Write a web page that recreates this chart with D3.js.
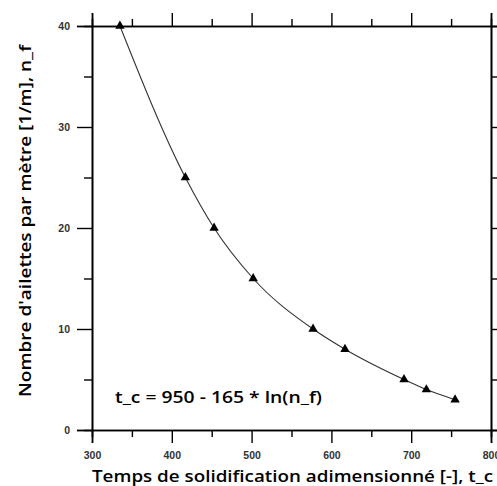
<!doctype html>
<html>
<head>
  <meta charset="utf-8">
  <script src="https://d3js.org/d3.v7.min.js"></script>
  <style>
    body { margin: 0; background: #fff; }
  </style>
</head>
<body>
  <script>

    // data
    var tc = [335, 417, 453, 502, 577, 617, 691, 719, 755];
    var nf = [40, 25, 20, 15, 10, 8, 5, 4, 3];

    var xTicks = [300, 400, 500, 600, 700, 800];
    var yTicks = [0, 10, 20, 30, 40];

    var points = tc.map(function (t, i) { return [t, nf[i]]; });

    var svg = d3.select("body")
      .append("svg")
      .attr("width", 497)
      .attr("height", 486);

    var x = d3.scaleLinear().domain([300, 800]).range([92, 491]);
    var y = d3.scaleLinear().domain([0, 40]).range([430, 26]);

    var tickFont = "'Liberation Sans', Arial, sans-serif";

    // minor ticks (no labels)
    svg.append("g")
      .attr("transform", "translate(0,430)")
      .call(d3.axisBottom(x).tickValues(d3.range(350, 800, 100)).tickSize(7).tickFormat(""));
    svg.append("g")
      .attr("transform", "translate(0,26)")
      .call(d3.axisTop(x).tickValues(d3.range(350, 800, 100)).tickSize(7).tickFormat(""));
    svg.append("g")
      .attr("transform", "translate(92,0)")
      .call(d3.axisLeft(y).tickValues(d3.range(5, 40, 10)).tickSize(8).tickFormat(""));
    svg.append("g")
      .attr("transform", "translate(491,0)")
      .call(d3.axisRight(y).tickValues(d3.range(5, 40, 10)).tickSize(8).tickFormat(""));

    // major ticks
    var xAxis = svg.append("g")
      .attr("transform", "translate(0,430)")
      .call(d3.axisBottom(x).tickValues(xTicks).tickSize(13).tickPadding(9));
    svg.append("g")
      .attr("transform", "translate(0,26)")
      .call(d3.axisTop(x).tickValues(xTicks).tickSize(13).tickFormat(""));
    var yAxis = svg.append("g")
      .attr("transform", "translate(92,0)")
      .call(d3.axisLeft(y).tickValues(yTicks).tickSize(15).tickPadding(7));
    svg.append("g")
      .attr("transform", "translate(491,0)")
      .call(d3.axisRight(y).tickValues(yTicks).tickSize(13).tickFormat(""));

    svg.selectAll(".domain")
      .attr("stroke", "#000")
      .attr("stroke-width", 1.6);
    svg.selectAll(".tick line")
      .attr("stroke", "#000")
      .attr("stroke-width", 1.4);
    svg.selectAll(".tick text")
      .attr("font-family", tickFont)
      .attr("font-size", 10.5)
      .attr("font-weight", "bold")
      .attr("fill", "#333");

    // fitted curve through the points
    var line = d3.line()
      .x(function (d) { return x(d[0]); })
      .y(function (d) { return y(d[1]); })
      .curve(d3.curveMonotoneX);

    svg.append("path")
      .datum(points)
      .attr("d", line)
      .attr("fill", "none")
      .attr("stroke", "#333")
      .attr("stroke-width", 1.1);

    // triangle markers
    svg.selectAll(".pt")
      .data(points)
      .enter()
      .append("path")
      .attr("class", "pt")
      .attr("transform", function (d) { return "translate(" + x(d[0]) + "," + y(d[1]) + ")"; })
      .attr("d", d3.symbol().type(d3.symbolTriangle).size(38))
      .attr("fill", "#000");

    // equation
    svg.append("text")
      .attr("x", 115)
      .attr("y", 403)
      .attr("font-family", "'Open Sans', sans-serif")
      .attr("font-size", 17)
      .attr("font-weight", 600)
      .attr("textLength", 207)
      .attr("lengthAdjust", "spacingAndGlyphs")
      .text("t_c = 950 - 165 * ln(n_f)");

    // axis titles
    svg.append("text")
      .attr("x", 92)
      .attr("y", 482)
      .attr("font-family", "'Open Sans', sans-serif")
      .attr("font-size", 17)
      .attr("font-weight", 600)
      .attr("textLength", 401)
      .attr("lengthAdjust", "spacingAndGlyphs")
      .text("Temps de solidification adimensionné [-], t_c");

    svg.append("text")
      .attr("transform", "translate(31,397) rotate(-90)")
      .attr("font-family", "'Open Sans', sans-serif")
      .attr("font-size", 17)
      .attr("font-weight", 600)
      .attr("textLength", 352)
      .attr("lengthAdjust", "spacingAndGlyphs")
      .text("Nombre d'ailettes par mètre [1/m], n_f");

  </script>
</body>
</html>
